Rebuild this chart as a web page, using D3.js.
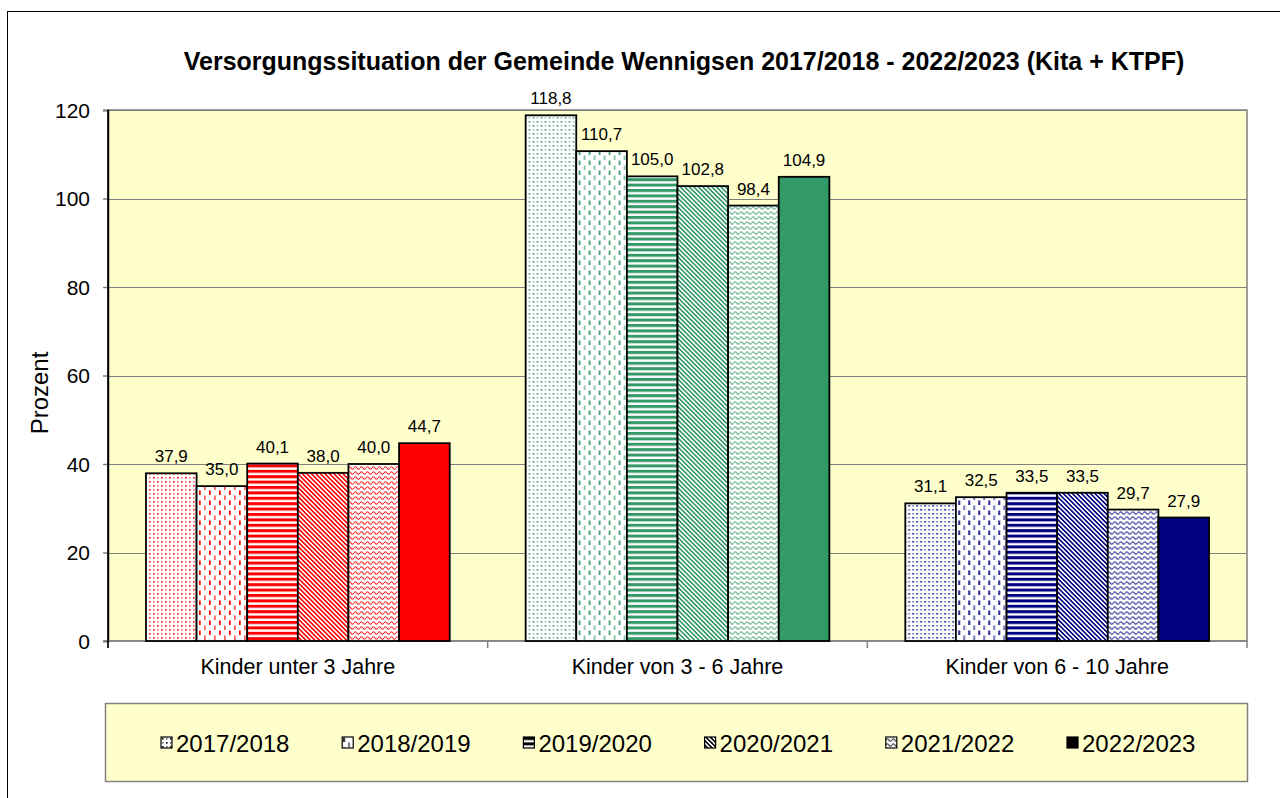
<!DOCTYPE html>
<html>
<head>
<meta charset="utf-8">
<script src="https://cdn.jsdelivr.net/npm/d3@7"></script>
<style>
  html, body { margin: 0; padding: 0; background: #fff; }
  svg { display: block; font-family: "Liberation Sans", Arial, sans-serif; }
</style>
</head>
<body>
<svg id="chart" width="1280" height="798"></svg>
<script>
// Betreuungsquoten je Altersgruppe und Kindergartenjahr (in Prozent)
const categories = ["Kinder unter 3 Jahre", "Kinder von 3 - 6 Jahre", "Kinder von 6 - 10 Jahre"];
const years = ["2017/2018", "2018/2019", "2019/2020", "2020/2021", "2021/2022", "2022/2023"];
const unter3 = [37.9, 35.0, 40.1, 38.0, 40.0, 44.7];
const von3bis6 = [118.8, 110.7, 105.0, 102.8, 98.4, 104.9];
const von6bis10 = [31.1, 32.5, 33.5, 33.5, 29.7, 27.9];
const yTicks = [0, 20, 40, 60, 80, 100, 120];
const groupColors = ["#ff0000", "#339966", "#000080"];
const chartTitle = "Versorgungssituation der Gemeinde Wennigsen 2017/2018 - 2022/2023 (Kita + KTPF)";

const seriesByCategory = [unter3, von3bis6, von6bis10];

const de = d3.formatLocale({ decimal: ",", thousands: ".", grouping: [3], currency: ["", " €"] });
const fmt = de.format(".1f");

const svg = d3.select("#chart");
const plot = { left: 108, right: 1247, top: 110, bottom: 641 };

// Fill patterns, one per year; the last year is drawn solid
const patternKinds = ["dots", "dashes", "hstripes", "diag", "waves", "solid"];
const defs = svg.append("defs");

function addPattern(id, kind, color) {
  if (kind === "solid") return;
  const p = defs.append("pattern").attr("id", id).attr("patternUnits", "userSpaceOnUse");
  if (kind === "dots") {
    p.attr("width", 8).attr("height", 8);
    p.append("rect").attr("width", 8).attr("height", 8).attr("fill", "#fff");
    [[0, 0, 1], [4, 4, 1], [4, 0, 0.55], [0, 4, 0.55]].forEach(([x, y, o]) => {
      p.append("rect").attr("x", x + 1).attr("y", y + 1).attr("width", 1.6).attr("height", 1.6)
        .attr("fill", color).attr("opacity", o);
    });
  } else if (kind === "dashes") {
    p.attr("width", 10).attr("height", 10);
    p.append("rect").attr("width", 10).attr("height", 10).attr("fill", "#fff");
    p.append("rect").attr("x", 1).attr("y", 0.5).attr("width", 1.7).attr("height", 4.5).attr("fill", color);
    p.append("rect").attr("x", 6).attr("y", 5.5).attr("width", 1.7).attr("height", 4.5).attr("fill", color).attr("opacity", 0.65);
  } else if (kind === "hstripes") {
    p.attr("width", 10).attr("height", 5.4);
    p.append("rect").attr("width", 10).attr("height", 5.4).attr("fill", "#fff");
    p.append("rect").attr("y", 0).attr("width", 10).attr("height", 3).attr("fill", color);
  } else if (kind === "diag") {
    p.attr("width", 3.2).attr("height", 3.2).attr("patternTransform", "rotate(-45)");
    p.append("rect").attr("width", 3.2).attr("height", 3.2).attr("fill", "#fff");
    p.append("rect").attr("x", 0).attr("width", 1.6).attr("height", 3.2).attr("fill", color);
  } else if (kind === "waves") {
    p.attr("width", 6).attr("height", 5);
    p.append("rect").attr("width", 6).attr("height", 5).attr("fill", "#fff");
    p.append("path").attr("d", "M0,3 Q1.5,0.5 3,3 T6,3").attr("fill", "none")
      .attr("stroke", color).attr("stroke-width", 1.2).attr("opacity", 0.85);
  }
}

groupColors.forEach((c, gi) => patternKinds.forEach((k, si) => addPattern(`pat-${gi}-${si}`, k, c)));
patternKinds.forEach((k, si) => addPattern(`leg-${si}`, k, "#000"));

function fillFor(prefix, gi, si, color) {
  return patternKinds[si] === "solid" ? color : `url(#${prefix}-${gi}-${si})`;
}

// Outer chart frame
svg.append("rect").attr("x", 7.5).attr("y", 11.5).attr("width", 1300).attr("height", 900)
  .attr("fill", "none").attr("stroke", "#000").attr("stroke-width", 1);

// Title
svg.append("text").attr("x", 684).attr("y", 70).attr("text-anchor", "middle")
  .attr("font-size", 25).attr("font-weight", "bold").attr("fill", "#000").text(chartTitle);

// Scales
const y = d3.scaleLinear().domain([0, 120]).range([plot.bottom, plot.top]);
const x0 = d3.scaleBand().domain(categories).range([plot.left, plot.right]).paddingInner(0).paddingOuter(0);
const x1 = d3.scaleBand().domain(years).range([0, x0.bandwidth()]).paddingInner(0).paddingOuter(0.75);

// Plot area background
svg.append("rect").attr("x", plot.left).attr("y", plot.top)
  .attr("width", plot.right - plot.left).attr("height", plot.bottom - plot.top)
  .attr("fill", "#ffffcc").attr("stroke", "#808080").attr("stroke-width", 1.5);

// Gridlines
svg.append("g").selectAll("line").data(yTicks.filter(t => t > 0)).join("line")
  .attr("x1", plot.left).attr("x2", plot.right)
  .attr("y1", d => Math.round(y(d)) + 0.5).attr("y2", d => Math.round(y(d)) + 0.5)
  .attr("stroke", "#808080").attr("stroke-width", 1.2);

// Y axis
const yAxis = svg.append("g").attr("transform", `translate(${plot.left},0)`)
  .call(d3.axisLeft(y).tickValues(yTicks).tickSize(5).tickPadding(13).tickFormat(d3.format("d")));
yAxis.select(".domain").attr("stroke", "#000").attr("stroke-width", 1.5);
yAxis.selectAll(".tick line").attr("stroke", "#808080").attr("stroke-width", 1.5);
yAxis.selectAll(".tick text").attr("font-size", 21).attr("fill", "#000")
  .attr("font-family", "'Liberation Sans', Arial, sans-serif").attr("dy", "0.35em");

// X axis line and category separators
svg.append("line").attr("x1", plot.left - 5).attr("x2", plot.right).attr("y1", plot.bottom).attr("y2", plot.bottom)
  .attr("stroke", "#808080").attr("stroke-width", 1.5);
const seps = categories.map(c => x0(c)).concat([plot.right]);
svg.append("g").selectAll("line").data(seps).join("line")
  .attr("x1", d => d).attr("x2", d => d).attr("y1", plot.bottom).attr("y2", plot.bottom + 7)
  .attr("stroke", "#808080").attr("stroke-width", 1.5);
svg.append("line").attr("x1", plot.left).attr("x2", plot.left).attr("y1", plot.top).attr("y2", plot.bottom + 7)
  .attr("stroke", "#000").attr("stroke-width", 1.5);

svg.append("g").selectAll("text").data(categories).join("text")
  .attr("x", d => x0(d) + x0.bandwidth() / 2).attr("y", 674).attr("text-anchor", "middle")
  .attr("font-size", 21.5).attr("fill", "#000").text(d => d);

// Y axis title
svg.append("text").attr("transform", "translate(48,393) rotate(-90)").attr("text-anchor", "middle")
  .attr("font-size", 24).attr("fill", "#000").text("Prozent");

// Bars and value labels
const groups = svg.append("g").selectAll("g").data(categories).join("g")
  .attr("transform", d => `translate(${x0(d)},0)`);

groups.each(function (cat, gi) {
  const g = d3.select(this);
  const rows = years.map((yr, si) => ({ yr, si, v: seriesByCategory[gi][si] }));
  g.selectAll("rect").data(rows).join("rect")
    .attr("x", d => x1(d.yr)).attr("y", d => y(d.v))
    .attr("width", x1.bandwidth()).attr("height", d => y(0) - y(d.v))
    .attr("fill", d => fillFor("pat", gi, d.si, groupColors[gi]))
    .attr("stroke", "#000").attr("stroke-width", 1.8);
  g.selectAll("text").data(rows).join("text")
    .attr("x", d => x1(d.yr) + x1.bandwidth() / 2).attr("y", d => y(d.v) - 11)
    .attr("text-anchor", "middle").attr("font-size", 17).attr("fill", "#000")
    .text(d => fmt(d.v));
});

// Legend
const legend = svg.append("g");
legend.append("rect").attr("x", 105.5).attr("y", 703.5).attr("width", 1142).attr("height", 78)
  .attr("fill", "#ffffcc").attr("stroke", "#808080").attr("stroke-width", 1.5);
const legendX = d3.scalePoint().domain(years).range([161, 1067]);
const items = legend.selectAll("g.item").data(years).join("g").attr("class", "item")
  .attr("transform", d => `translate(${legendX(d)},737)`);
items.append("rect").attr("width", 11).attr("height", 11)
  .attr("fill", (d, i) => patternKinds[i] === "solid" ? "#000" : `url(#leg-${i})`)
  .attr("stroke", "#000").attr("stroke-width", 1.2);
items.append("text").attr("x", 15).attr("y", 14.5).attr("font-size", 24).attr("fill", "#000").text(d => d);
</script>
</body>
</html>
